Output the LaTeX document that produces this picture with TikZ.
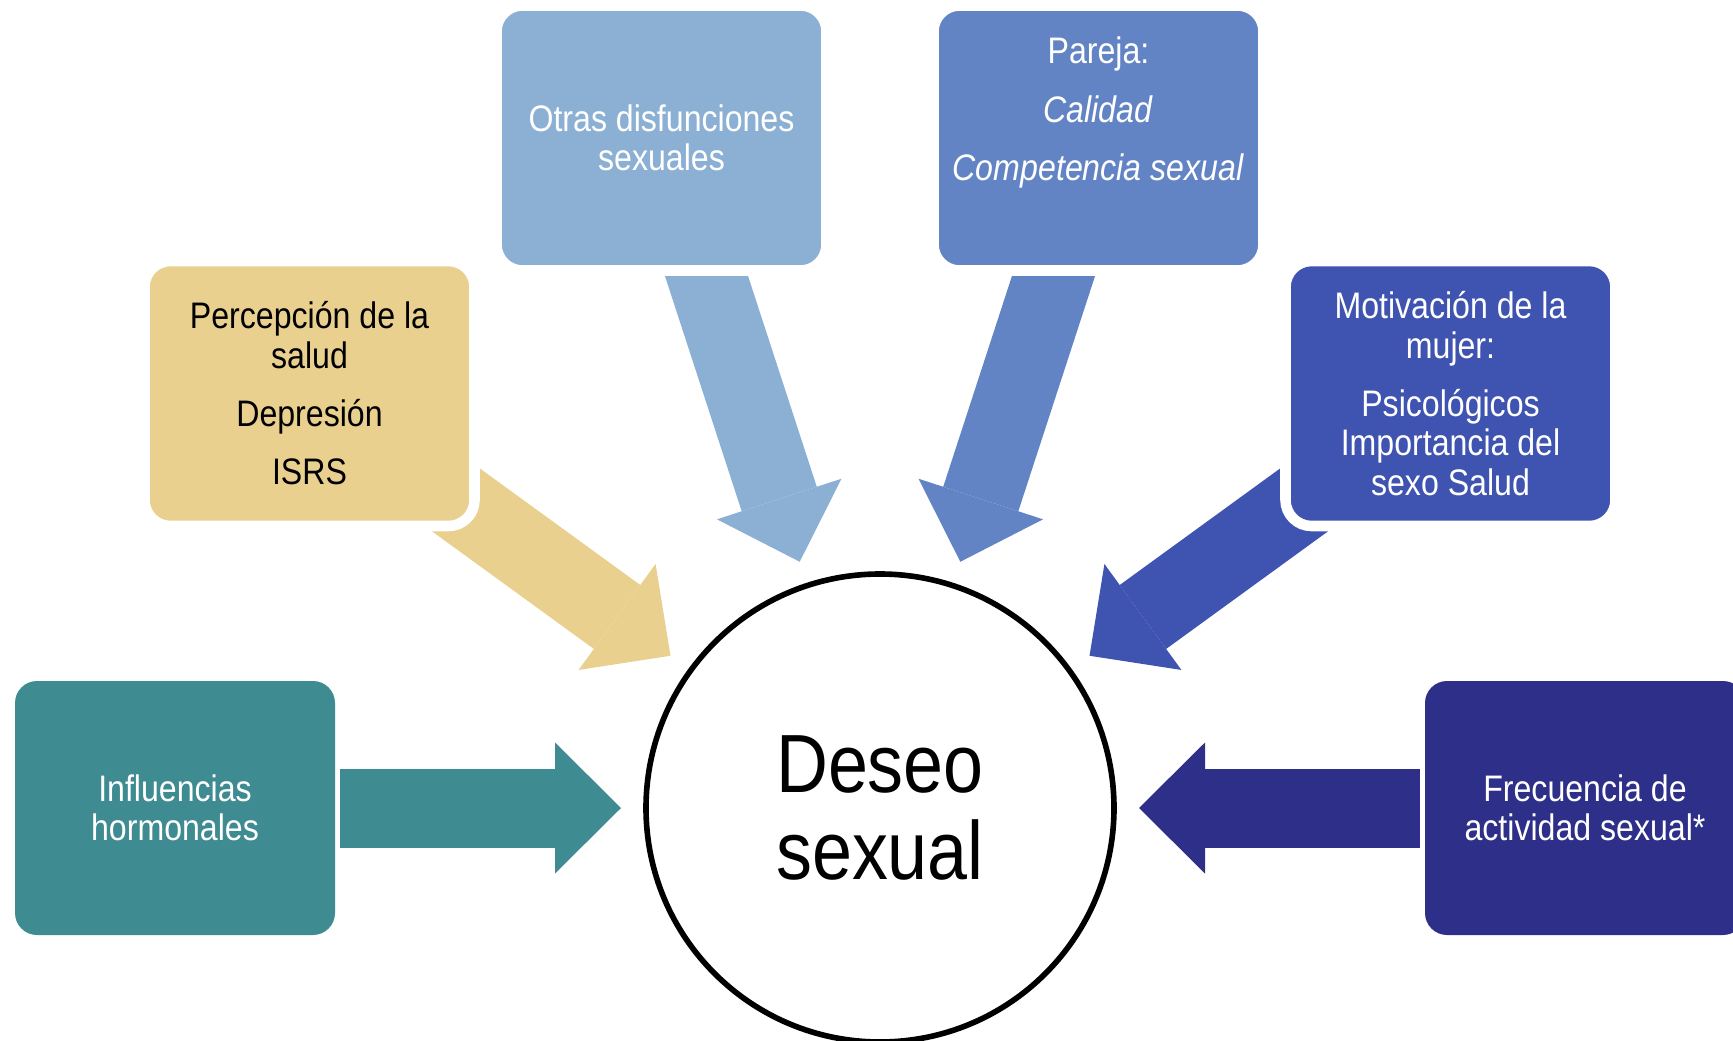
\documentclass[tikz,border=0pt]{standalone}
\usepackage{fontspec}
\setmainfont{Liberation Sans}[FakeStretch=0.87]
\usetikzlibrary{arrows.meta}
\pgfdeclarelayer{background}
\pgfsetlayers{background,main}

\definecolor{tealbox}{RGB}{62,139,145}
\definecolor{sandbox}{RGB}{233,208,142}
\definecolor{skybox}{RGB}{139,176,211}
\definecolor{midbox}{RGB}{98,132,197}
\definecolor{royalbox}{RGB}{63,83,176}
\definecolor{navybox}{RGB}{46,47,136}

\begin{document}
\begin{tikzpicture}[x=0.1mm, y=-0.1mm,
    factor/.style={rectangle, rounded corners=2.6mm, minimum width=33mm, minimum height=26.5mm,
      inner sep=0pt, outer sep=0pt, draw=white, line width=3pt, text=white, align=center,
      font=\fontsize{10.5}{11.2}\selectfont},
    sidebox/.style={factor, draw=none, rounded corners=2.2mm, minimum width=32mm, minimum height=25.4mm},
    bigarrow/.style={line width=7.9mm, -{Triangle[length=6.6mm, width=13.1mm, line width=0pt]},
      shorten >=2.5mm}]
        \useasboundingbox (0,0) rectangle (1733,1041);

        \node [circle, draw, line width=1.6pt, minimum size=46.8mm, inner sep=0pt, outer sep=0pt,
          align=center, font=\fontsize{23.5}{25}\selectfont] (deseo) at (880,808) {Deseo\\sexual};

        \node [sidebox, fill=tealbox] (infl) at (175,808)    {Influencias\\hormonales};
        \node [factor, fill=sandbox, text=black] (perc) at (309.5,393.5)
          {Percepción de la\\salud\\[5.4pt]Depresión\\[5.4pt]ISRS};
        \node [factor, fill=skybox]   (otras) at (661.5,138) {Otras disfunciones\\sexuales};
        \node [factor, fill=midbox]   (pareja) at (1098.5,138)
          {Pareja:\\[5.4pt]\textit{Calidad}\\[5.4pt]\textit{Competencia sexual}\\[5.4pt]\mbox{}};
        \node [factor, fill=royalbox] (motiv) at (1450.5,393.5)
          {Motivación de la\\mujer:\\[5.4pt]Psicológicos\\Importancia del\\sexo Salud};
        \node [sidebox, fill=navybox] (frec) at (1585,808)   {Frecuencia de\\actividad sexual*};

        % block arrows behind the boxes
        \begin{pgfonlayer}{background}
        \draw [bigarrow, tealbox, shorten <=0.5mm] (infl.east) -- (deseo);
        \draw [bigarrow, sandbox]  (perc.center)  -- (deseo);
        \draw [bigarrow, skybox]   (otras.center) -- (deseo);
        \draw [bigarrow, midbox]   (pareja.center) -- (deseo);
        \draw [bigarrow, royalbox] (motiv.center) -- (deseo);
        \draw [bigarrow, navybox, shorten <=0.5mm] (frec.west) -- (deseo);
        \end{pgfonlayer}
      \end{tikzpicture}
\end{document}
